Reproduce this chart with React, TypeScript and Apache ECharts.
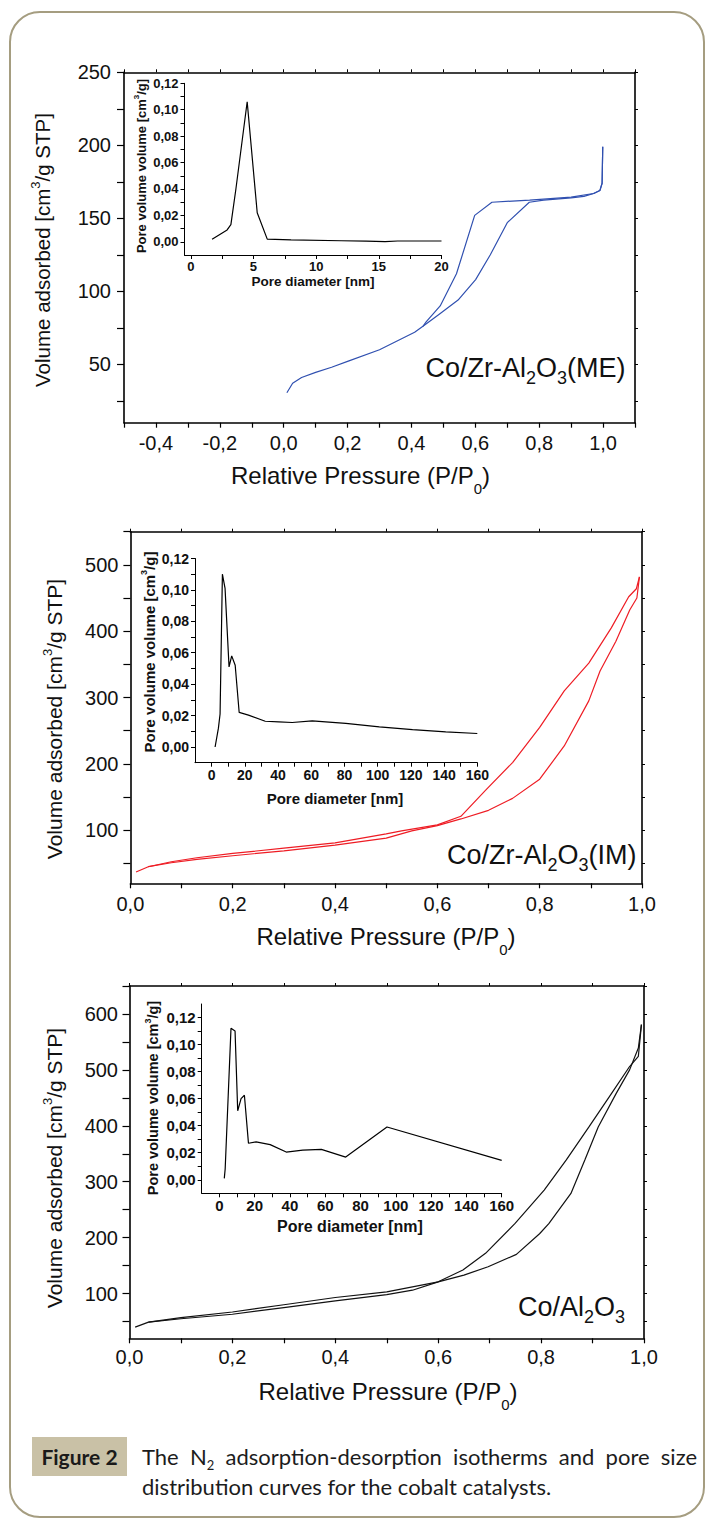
import React, { useEffect, useRef } from "react";
import * as echarts from "echarts";

type Pt = [number, number];

const W = 705;
const H = 1519;
const FONT = '"Liberation Sans", Arial, Helvetica, sans-serif';
const CAP_FAMILY = "Lato";

// ---------------- data: Co/Zr-Al2O3 (ME) ----------------
const meAdsorption: Pt[] = [
  [0.01, 30.5], [0.028, 37], [0.056, 41], [0.1, 44.5], [0.15, 48], [0.2, 52],
  [0.3, 60], [0.41, 72], [0.436, 76], [0.485, 84], [0.546, 94], [0.601, 108],
  [0.647, 125], [0.7, 147], [0.769, 161], [0.814, 162.5], [0.9, 164], [0.94, 165],
  [0.971, 167], [0.99, 169], [0.997, 174], [0.999, 199],
];
const meDesorption: Pt[] = [
  [0.999, 199], [0.997, 174], [0.99, 169], [0.97, 167], [0.9, 164.5], [0.77, 162.5],
  [0.652, 161], [0.598, 152], [0.541, 112], [0.49, 90], [0.446, 79], [0.436, 76],
];
const mePoreSize: Pt[] = [
  [1.7, 0.002], [2.9, 0.009], [3.2, 0.013], [3.6, 0.04], [4.5, 0.106], [5.3, 0.022],
  [6.1, 0.002], [8, 0.0015], [12, 0.0008], [14, 0.0005], [15.5, 0.0001], [16.5, 0.0006], [20, 0.0006],
];

// ---------------- data: Co/Zr-Al2O3 (IM) ----------------
const imAdsorption: Pt[] = [
  [0.011, 37], [0.035, 45], [0.08, 51], [0.13, 56], [0.2, 61.5], [0.3, 69], [0.4, 77.5],
  [0.5, 88], [0.55, 99], [0.6, 107], [0.646, 117], [0.7, 130], [0.747, 148], [0.8, 177],
  [0.848, 227], [0.896, 295], [0.918, 340], [0.949, 385], [0.976, 432], [0.99, 450], [0.995, 482],
];
const imDesorption: Pt[] = [
  [0.995, 482], [0.989, 464], [0.974, 452], [0.94, 405], [0.896, 352], [0.848, 310],
  [0.8, 255], [0.747, 202], [0.694, 160], [0.646, 121], [0.6, 108], [0.53, 99], [0.5, 94.5],
  [0.4, 81], [0.3, 73], [0.2, 65], [0.13, 58.5], [0.08, 52.5], [0.035, 45],
];
const imPoreSize: Pt[] = [
  [2.1, 0.0], [4.1, 0.012], [5.1, 0.021], [6.5, 0.11], [8.1, 0.101], [10.5, 0.051],
  [12.1, 0.058], [14.2, 0.052], [16.6, 0.022], [22.2, 0.0203], [32.3, 0.0164], [40.4, 0.016],
  [48.5, 0.0156], [60.6, 0.0166], [80.8, 0.015], [101, 0.0128], [121, 0.011], [141, 0.0096], [160, 0.0086],
];

// ---------------- data: Co/Al2O3 ----------------
const caAdsorption: Pt[] = [
  [0.011, 40], [0.037, 49], [0.1, 55], [0.2, 63], [0.3, 75], [0.4, 87], [0.5, 98],
  [0.55, 106], [0.6, 121], [0.65, 133], [0.697, 148], [0.752, 170], [0.797, 207],
  [0.815, 225], [0.858, 279], [0.885, 339], [0.911, 398], [0.946, 458], [0.972, 500],
  [0.989, 539], [0.995, 581],
];
const caDesorption: Pt[] = [
  [0.995, 581], [0.989, 524], [0.972, 506], [0.937, 458], [0.893, 398], [0.849, 339],
  [0.806, 285], [0.749, 225], [0.692, 172], [0.648, 142], [0.6, 121], [0.5, 103],
  [0.4, 93], [0.3, 80], [0.2, 67], [0.1, 57], [0.037, 49],
];
const caPoreSize: Pt[] = [
  [2.8, 0.001], [3.3, 0.008], [3.6, 0.008], [6.6, 0.112], [8.9, 0.11], [10.4, 0.051],
  [12.3, 0.06], [14.2, 0.0625], [16.5, 0.027], [20.8, 0.028], [28.8, 0.026], [37.9, 0.0205],
  [47.3, 0.022], [57.8, 0.0225], [71.6, 0.0168], [95, 0.039], [160, 0.0143],
];

// ---------------- ticks / labels ----------------
const xTicksME = [-0.5, -0.4, -0.3, -0.2, -0.1, 0, 0.1, 0.2, 0.3, 0.4, 0.5, 0.6, 0.7, 0.8, 0.9, 1.0, 1.1];
const xLabelsME = [-0.4, -0.2, 0, 0.2, 0.4, 0.6, 0.8, 1.0];
const yTicksME = [25, 50, 75, 100, 125, 150, 175, 200, 225, 250];
const yLabelsME = [50, 100, 150, 200, 250];
const xTicksUnit = [0, 0.1, 0.2, 0.3, 0.4, 0.5, 0.6, 0.7, 0.8, 0.9, 1.0];
const xLabelsUnit = [0, 0.2, 0.4, 0.6, 0.8, 1.0];
const yTicksIM = [50, 100, 150, 200, 250, 300, 350, 400, 450, 500, 550];
const yLabelsIM = [100, 200, 300, 400, 500];
const yTicksCA = [50, 100, 150, 200, 250, 300, 350, 400, 450, 500, 550, 600, 650];
const yLabelsCA = [100, 200, 300, 400, 500, 600];
const psdYTicks = [0, 0.01, 0.02, 0.03, 0.04, 0.05, 0.06, 0.07, 0.08, 0.09, 0.1, 0.11, 0.12];
const psdYLabels = [0, 0.02, 0.04, 0.06, 0.08, 0.1, 0.12];
const psdXTicksME = [0, 2.5, 5, 7.5, 10, 12.5, 15, 17.5, 20];
const psdXLabelsME = [0, 5, 10, 15, 20];
const psdXTicksWide = [0, 10, 20, 30, 40, 50, 60, 70, 80, 90, 100, 110, 120, 130, 140, 150, 160];
const psdXLabelsWide = [0, 20, 40, 60, 80, 100, 120, 140, 160];

// caption
const captionLine1Words = ["The", "N{sub|2}", "adsorption-desorption", "isotherms", "and", "pore", "size"];
const captionLine2 = "distribution curves for the cobalt catalysts.";

const comma = (d: number) => (v: number) => v.toFixed(d).replace(".", ",").replace(/^-0,0+$/, (m) => m.slice(1));

interface Panel {
  grid: { left: number; top: number; width: number; height: number };
  x: [number, number];
  y: [number, number];
  xTicks: number[];
  xLabels: number[];
  yTicks: number[];
  yLabels: number[];
  yLabelMargin: number;
  xLabelMargin: number;
  color: string;
  ads: Pt[];
  des: Pt[];
  inset: {
    grid: { left: number; top: number; width: number; height: number };
    x: [number, number];
    y: [number, number];
    xTicks: number[];
    xLabels: number[];
    fontSize: number;
    xLabelMargin: number;
    data: Pt[];
  };
}

const panels: Panel[] = [
  {
    grid: { left: 124, top: 72.3, width: 511, height: 350.4 },
    x: [-0.5, 1.1], y: [10, 250],
    xTicks: xTicksME, xLabels: xLabelsME, yTicks: yTicksME, yLabels: yLabelsME,
    yLabelMargin: 13, xLabelMargin: 10,
    color: "#3050b0", ads: meAdsorption, des: meDesorption,
    inset: {
      grid: { left: 184.5, top: 83.3, width: 257, height: 171.7 },
      x: [-0.5, 20], y: [-0.01, 0.12], xTicks: psdXTicksME, xLabels: psdXLabelsME,
      fontSize: 13, xLabelMargin: 5, data: mePoreSize,
    },
  },
  {
    grid: { left: 130.4, top: 531.7, width: 511.6, height: 351.6 },
    x: [0, 1.0], y: [20, 550],
    xTicks: xTicksUnit, xLabels: xLabelsUnit, yTicks: yTicksIM, yLabels: yLabelsIM,
    yLabelMargin: 12, xLabelMargin: 11,
    color: "#ee1c24", ads: imAdsorption, des: imDesorption,
    inset: {
      grid: { left: 195, top: 558.5, width: 282.3, height: 204.2 },
      x: [-10, 160], y: [-0.01, 0.12], xTicks: psdXTicksWide, xLabels: psdXLabelsWide,
      fontSize: 14, xLabelMargin: 5, data: imPoreSize,
    },
  },
  {
    grid: { left: 129.5, top: 986, width: 514.5, height: 352.3 },
    x: [0, 1.0], y: [20, 650],
    xTicks: xTicksUnit, xLabels: xLabelsUnit, yTicks: yTicksCA, yLabels: yLabelsCA,
    yLabelMargin: 11.5, xLabelMargin: 9,
    color: "#111111", ads: caAdsorption, des: caDesorption,
    inset: {
      grid: { left: 201.7, top: 1004, width: 300, height: 189.3 },
      x: [-10, 160], y: [-0.01, 0.13], xTicks: psdXTicksWide, xLabels: psdXLabelsWide,
      fontSize: 15, xLabelMargin: 5, data: caPoreSize,
    },
  },
];

let measureCtx: CanvasRenderingContext2D | null = null;
function measure(text: string, size: number, family: string) {
  if (!measureCtx) measureCtx = document.createElement("canvas").getContext("2d");
  if (!measureCtx) return text.length * size * 0.5;
  measureCtx.font = `${size}px ${family}`;
  return measureCtx.measureText(text).width;
}

function buildOption() {
  const grid: any[] = [];
  const xAxis: any[] = [];
  const yAxis: any[] = [];
  const series: any[] = [];

  panels.forEach((p, i) => {
    const gMain = i * 2;
    const gIn = i * 2 + 1;
    grid.push({ ...p.grid, containLabel: false, outerBoundsMode: "none" });
    grid.push({ ...p.inset.grid, containLabel: false, outerBoundsMode: "none" });

    const mainLine = { show: true, onZero: false, lineStyle: { color: "#000", width: 1.6 } };
    const mainLabel = { fontSize: 20, fontFamily: FONT, color: "#111" };

    xAxis.push({
      gridIndex: gMain, type: "value", position: "bottom", min: p.x[0], max: p.x[1],
      axisLine: mainLine,
      axisTick: { show: true, inside: false, length: 5, customValues: p.xTicks, lineStyle: { color: "#000", width: 1.2 } },
      axisLabel: { ...mainLabel, margin: p.xLabelMargin, customValues: p.xLabels, formatter: comma(1) },
      splitLine: { show: false }, minorTick: { show: false },
    });
    xAxis.push({
      gridIndex: gMain, type: "value", position: "top", min: p.x[0], max: p.x[1],
      axisLine: mainLine,
      axisTick: { show: true, inside: false, length: 3, customValues: p.xTicks, lineStyle: { color: "#000", width: 1 } },
      axisLabel: { show: false }, splitLine: { show: false },
    });
    const insetLabel = { fontSize: p.inset.fontSize, fontFamily: FONT, fontWeight: "bold", color: "#111" };
    xAxis.push({
      gridIndex: gIn, type: "value", position: "bottom", min: p.inset.x[0], max: p.inset.x[1],
      axisLine: { show: true, onZero: false, lineStyle: { color: "#000", width: 1 } },
      axisTick: { show: true, inside: false, length: 4, customValues: p.inset.xTicks, lineStyle: { color: "#000", width: 1 } },
      axisLabel: { ...insetLabel, margin: p.inset.xLabelMargin, customValues: p.inset.xLabels, formatter: (v: number) => String(v) },
      splitLine: { show: false },
    });

    yAxis.push({
      gridIndex: gMain, type: "value", position: "left", min: p.y[0], max: p.y[1],
      axisLine: mainLine,
      axisTick: { show: true, inside: false, length: 7, customValues: p.yTicks, lineStyle: { color: "#000", width: 1.2 } },
      axisLabel: { ...mainLabel, margin: p.yLabelMargin, customValues: p.yLabels, formatter: (v: number) => String(v) },
      splitLine: { show: false },
    });
    yAxis.push({
      gridIndex: gMain, type: "value", position: "right", min: p.y[0], max: p.y[1],
      axisLine: mainLine,
      axisTick: { show: true, inside: false, length: 3, customValues: p.yTicks, lineStyle: { color: "#000", width: 1 } },
      axisLabel: { show: false }, splitLine: { show: false },
    });
    yAxis.push({
      gridIndex: gIn, type: "value", position: "left", min: p.inset.y[0], max: p.inset.y[1],
      axisLine: { show: true, onZero: false, lineStyle: { color: "#000", width: 1 } },
      axisTick: { show: true, inside: false, length: 4, customValues: psdYTicks, lineStyle: { color: "#000", width: 1 } },
      axisLabel: { ...insetLabel, margin: 6, customValues: psdYLabels, formatter: comma(2) },
      splitLine: { show: false },
    });

    const lineBase = { type: "line", showSymbol: false, symbol: "none", silent: true, animation: false, z: 3 };
    series.push({ ...lineBase, name: `ads${i}`, xAxisIndex: i * 3, yAxisIndex: i * 3, data: p.ads, lineStyle: { color: p.color, width: 1.2 }, itemStyle: { color: p.color } });
    series.push({ ...lineBase, name: `des${i}`, xAxisIndex: i * 3, yAxisIndex: i * 3, data: p.des, lineStyle: { color: p.color, width: 1.2 }, itemStyle: { color: p.color } });
    series.push({ ...lineBase, name: `psd${i}`, xAxisIndex: i * 3 + 2, yAxisIndex: i * 3 + 2, data: p.inset.data, lineStyle: { color: "#000", width: 1.2 }, itemStyle: { color: "#000" } });
  });

  const txt = (x: number, y: number, text: string, style: any, extra: any = {}) => ({
    type: "text", x, y, silent: true, z: 10, ...extra,
    style: { text, fill: "#111", fontFamily: FONT, ...style },
  });

  const yTitle = (x: number, y: number, fs: number) =>
    txt(x, y, "Volume adsorbed [cm{sup|3}/g STP]", {
      fontSize: fs, lineHeight: fs + 6, align: "center", verticalAlign: "middle",
      rich: { sup: { fontSize: 13, lineHeight: 13, verticalAlign: "top", fontFamily: FONT, fill: "#111" } },
    }, { rotation: Math.PI / 2 });

  const xTitle = (cx: number, baseline: number) =>
    txt(cx, baseline - 27.4, "Relative Pressure (P/P{sub|0})", {
      fontSize: 24, lineHeight: 40, align: "center", verticalAlign: "top",
      rich: { sub: { fontSize: 15, lineHeight: 15, verticalAlign: "bottom", fontFamily: FONT, fill: "#111" } },
    });

  const sampleLabel = (cx: number, baseline: number, text: string) =>
    txt(cx, baseline - 27.4, text, {
      fontSize: 27, lineHeight: 38, align: "center", verticalAlign: "top",
      rich: { sub: { fontSize: 18, lineHeight: 18, verticalAlign: "bottom", fontFamily: FONT, fill: "#111" } },
    });

  const insetYTitle = (x: number, y: number, fs: number) =>
    txt(x, y, "Pore volume volume [cm{sup|3}/g]", {
      fontSize: fs, fontWeight: "bold", lineHeight: fs + 4, align: "center", verticalAlign: "middle",
      rich: { sup: { fontSize: Math.round(fs * 0.62), fontWeight: "bold", lineHeight: Math.round(fs * 0.62), verticalAlign: "top", fontFamily: FONT, fill: "#111" } },
    }, { rotation: Math.PI / 2 });

  const insetXTitle = (cx: number, cy: number, fs: number) =>
    txt(cx, cy, "Pore diameter [nm]", { fontSize: fs, fontWeight: "bold", align: "center", verticalAlign: "middle" });

  // caption, line 1 justified between capLeft and capRight
  const capSize = 22;
  const capSub = 13;
  const capLeft = 142;
  const capRight = 697;
  const capColor = "#1c1c1c";
  const wordWidth = (w: string) => {
    const m = w.match(/^(.*)\{sub\|(.*)\}$/);
    if (m) return measure(m[1], capSize, CAP_FAMILY) + measure(m[2], capSub, CAP_FAMILY);
    return measure(w, capSize, CAP_FAMILY);
  };
  const widths = captionLine1Words.map(wordWidth);
  const total = widths.reduce((a, b) => a + b, 0);
  const gap = (capRight - capLeft - total) / (captionLine1Words.length - 1);
  const captionWords: any[] = [];
  let cx = capLeft;
  captionLine1Words.forEach((w, k) => {
    captionWords.push(
      txt(cx, 1456, w, {
        fontSize: capSize, fontFamily: CAP_FAMILY, lineHeight: 30, align: "left", verticalAlign: "middle", fill: capColor,
        rich: { sub: { fontSize: capSub, lineHeight: 13, verticalAlign: "bottom", fontFamily: CAP_FAMILY, fill: capColor } },
      })
    );
    cx += widths[k] + gap;
  });

  const graphic: any[] = [
    {
      type: "rect", silent: true, z: 1,
      shape: { x: 10, y: 12, width: 694, height: 1505, r: 30 },
      style: { fill: "none", stroke: "#a59d80", lineWidth: 2 },
    },
    yTitle(42, 250, 20.5),
    yTitle(54, 719, 21),
    yTitle(54, 1168, 21),
    xTitle(360.5, 483.3),
    xTitle(386, 944),
    xTitle(388, 1399.3),
    sampleLabel(525.5, 376, "Co/Zr-Al{sub|2}O{sub|3}(ME)"),
    sampleLabel(541.8, 863.3, "Co/Zr-Al{sub|2}O{sub|3}(IM)"),
    sampleLabel(571.5, 1315, "Co/Al{sub|2}O{sub|3}"),
    insetYTitle(141, 166, 13),
    insetYTitle(149, 652, 15),
    insetYTitle(153, 1098, 14.5),
    insetXTitle(313, 281.7, 13.5),
    insetXTitle(335, 798.3, 15),
    insetXTitle(350, 1226.7, 16),
    {
      type: "rect", silent: true, z: 5,
      shape: { x: 32, y: 1437, width: 95, height: 39 },
      style: { fill: "#c9c1a6" },
    },
    txt(79.5, 1456.5, "Figure 2", { fontSize: 21, fontWeight: "bold", fontFamily: CAP_FAMILY, align: "center", verticalAlign: "middle", fill: "#1a1a1a" }),
    ...captionWords,
    txt(capLeft, 1486, captionLine2, {
      fontSize: capSize, fontFamily: CAP_FAMILY, lineHeight: 30, align: "left", verticalAlign: "middle", fill: capColor,
    }),
  ];

  return { animation: false, backgroundColor: "#fff", grid, xAxis, yAxis, series, graphic };
}

export default function App() {
  const ref = useRef<HTMLDivElement>(null);
  useEffect(() => {
    if (!ref.current) return;
    const chart = echarts.init(ref.current, null, { renderer: "svg" });
    chart.setOption(buildOption() as any);
    return () => chart.dispose();
  }, []);
  return (
    <div
      ref={ref}
      style={{ position: "absolute", left: 0, top: 0, width: W, height: H, background: "#fff" }}
    />
  );
}
